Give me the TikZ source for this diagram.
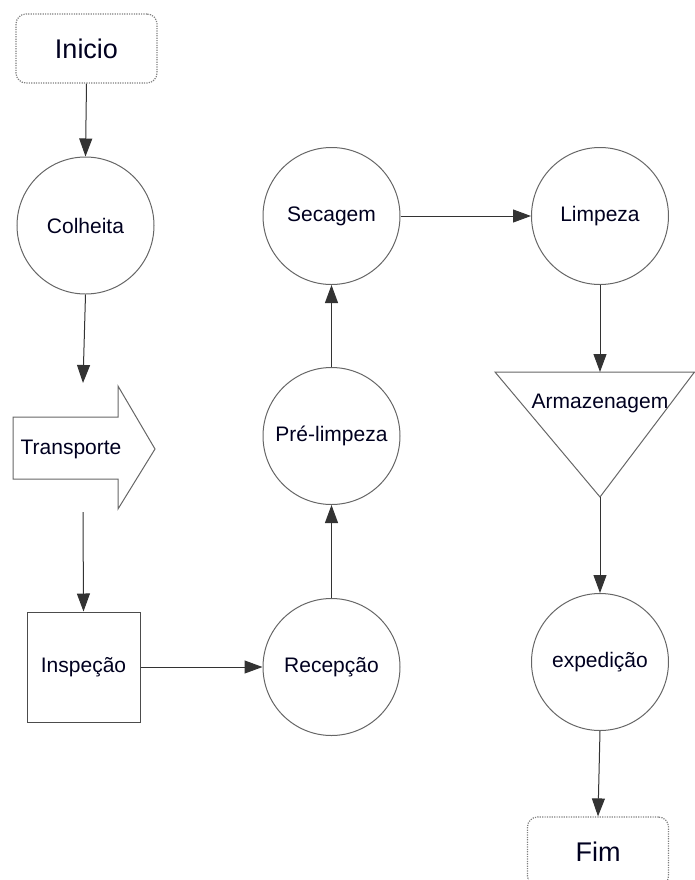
\documentclass[tikz,border=0pt]{standalone}
\usepackage{fontspec}
\setmainfont{Liberation Sans}
\usepackage{xcolor}
\usetikzlibrary{arrows.meta,positioning}

\begin{document}
\begin{tikzpicture}[
    x=0.5pt, y=-0.5pt,
    >={Triangle[length=9pt,width=6.5pt]},
    every node/.style={text=black!88!blue},
    proc/.style={circle, draw=black!60, line width=0.5pt, inner sep=0pt,
                 minimum size=68.5pt, font=\fontsize{10.5}{12}\selectfont},
    term/.style={rounded corners=5pt, draw=black!50, line width=0.6pt,
                 dash pattern=on 0.6pt off 0.6pt, inner sep=0pt,
                 minimum width=70.5pt, minimum height=34.5pt,
                 font=\fontsize{13.5}{16}\selectfont},
    inspbox/.style={draw=black!70, line width=0.5pt, inner sep=0pt,
                 minimum width=56.5pt, minimum height=55pt,
                 font=\fontsize{10.5}{12}\selectfont},
    lbl/.style={inner sep=0pt, font=\fontsize{10.5}{12}\selectfont},
    shp/.style={draw=black!60, line width=0.5pt},
    flow/.style={->, black!80, line width=0.5pt},
]
\useasboundingbox (0,0) rectangle (695,880);

% --- left column ---
\node[term] (inicio) at (86.5,48.5) {Inicio};
\node[proc] (colheita) at (85.5,225.5) {Colheita};

% transport arrow drawn as an outline
\draw[shp] (13,417) -- (118,417) -- (118,386) -- (155,449)
  -- (118,509) -- (118,479) -- (13,479) -- cycle;
\node[lbl] (transp) at (71,449) {Transporte};
\coordinate (transin)  at (83,383);
\coordinate (transout) at (83,512);

\node[inspbox] (insp) at (83.5,667) {Inspeção};

% --- middle column ---
\node[proc] (recep) at (331.5,667) {Recepção};
\node[proc] (prelimp) at (331.5,436) {Pré-limpeza};
\node[proc] (secag) at (331.5,216) {Secagem};

% --- right column ---
\node[proc] (limp) at (600,216) {Limpeza};

% storage triangle
\coordinate (armtop) at (600,372);
\coordinate (armapex) at (600,497);
\draw[shp] (495,372) -- (694.5,372) -- (armapex) -- cycle;
\node[lbl] (armaz) at (600,403) {Armazenagem};

\node[proc] (exped) at (600,662) {expedição};
\node[term] (fim) at (598,851.5) {Fim};

% --- connectors ---
\draw[flow] (inicio.south) -- (colheita.north);
\draw[flow] (colheita.south) -- (transin);
\draw[flow] (transout) -- (insp.north);
\draw[flow] (insp.east) -- (recep.west);
\draw[flow] (recep.north) -- (prelimp.south);
\draw[flow] (prelimp.north) -- (secag.south);
\draw[flow] (secag.east) -- (limp.west);
\draw[flow] (limp.south) -- (armtop);
\draw[flow] (armapex) -- (exped.north);
\draw[flow] (exped.south) -- (fim.north);
\end{tikzpicture}
\end{document}
